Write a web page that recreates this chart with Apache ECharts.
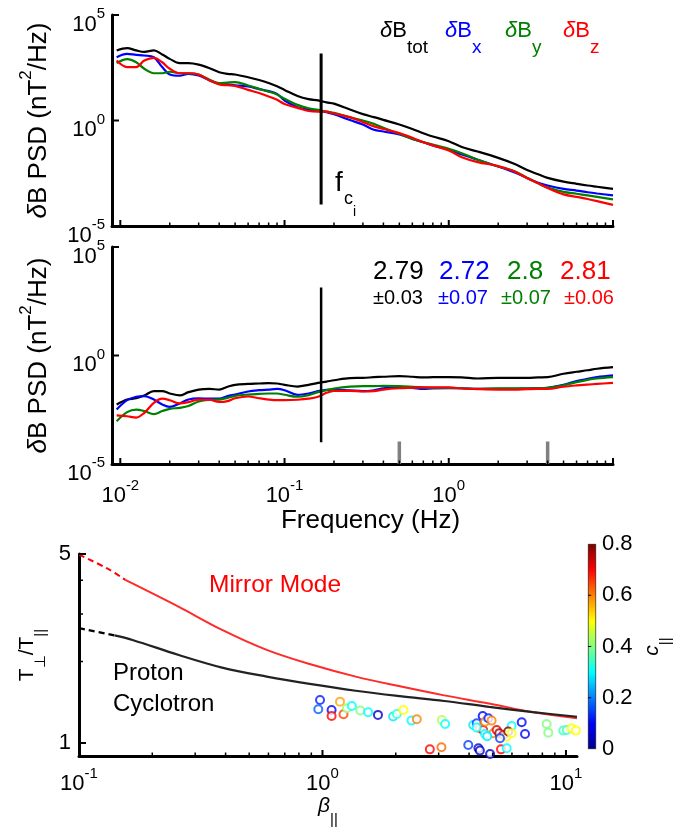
<!DOCTYPE html>
<html><head><meta charset="utf-8">
<script src="https://cdn.jsdelivr.net/npm/echarts@6/dist/echarts.min.js"></script>
<style>html,body{margin:0;padding:0;background:#fff}#c{width:694px;height:836px}</style>
</head><body><div id="c"></div>
<script>
// ---------- data ----------
const freq = [0.0095,0.011,0.0125,0.014,0.016,0.018,0.02,0.023,0.026,0.03,0.035,0.04,0.045,0.05,0.06,0.07,0.08,0.09,0.1,0.12,0.14,0.16,0.18,0.2,0.25,0.3,0.35,0.4,0.5,0.6,0.7,0.8,1.0,1.2,1.5,2,2.5,3,3.5,4,5,6,7,8,10];
// top panel: log10 of PSD (nT^2/Hz)
const psdTotExp = [3.32,3.43,3.32,3.25,3.32,3.13,2.92,2.72,2.72,2.65,2.48,2.29,2.21,2.18,2.05,1.92,1.78,1.62,1.45,1.16,1.01,0.95,0.86,0.80,0.52,0.30,0.16,0.03,-0.19,-0.40,-0.60,-0.76,-0.98,-1.26,-1.47,-1.77,-2.05,-2.35,-2.55,-2.72,-2.90,-3.00,-3.08,-3.14,-3.24];
const psdBxExp  = [3.00,3.16,3.11,3.08,3.00,2.53,2.18,2.12,2.21,2.13,1.90,1.74,1.71,1.67,1.61,1.49,1.39,1.26,0.95,0.63,0.52,0.46,0.40,0.30,0.02,-0.19,-0.44,-0.52,-0.66,-0.87,-1.03,-1.18,-1.39,-1.61,-1.86,-2.18,-2.45,-2.72,-2.95,-3.08,-3.24,-3.32,-3.40,-3.46,-3.55];
const psdByExp  = [2.72,2.91,2.76,2.45,2.24,2.24,2.31,2.24,2.24,2.18,1.93,1.77,1.80,1.82,1.66,1.50,1.37,1.23,1.03,0.74,0.58,0.50,0.42,0.36,0.15,0.00,-0.16,-0.35,-0.63,-0.87,-1.03,-1.14,-1.34,-1.55,-1.86,-2.18,-2.40,-2.72,-2.98,-3.18,-3.38,-3.47,-3.55,-3.62,-3.74];
const psdBzExp  = [2.84,2.53,2.53,2.84,2.97,2.76,2.45,2.24,2.24,2.18,1.90,1.71,1.67,1.64,1.45,1.30,1.14,0.98,0.78,0.60,0.45,0.42,0.42,0.33,0.16,-0.08,-0.28,-0.40,-0.60,-0.82,-1.03,-1.18,-1.42,-1.74,-1.97,-2.16,-2.40,-2.74,-2.98,-3.20,-3.50,-3.62,-3.72,-3.82,-4.00];
// middle panel: log10 of compensated PSD
const compTotExp = [-2.26,-2.03,-1.97,-1.84,-1.64,-1.64,-1.75,-1.84,-1.69,-1.57,-1.54,-1.57,-1.44,-1.35,-1.31,-1.29,-1.27,-1.29,-1.35,-1.43,-1.35,-1.26,-1.20,-1.14,-1.04,-1.03,-1.00,-0.98,-0.95,-0.98,-1.01,-1.00,-1.00,-1.01,-1.06,-1.03,-1.03,-1.03,-1.01,-1.00,-0.84,-0.75,-0.68,-0.61,-0.54];
const compBxExp  = [-2.49,-2.06,-1.90,-1.87,-2.03,-2.26,-2.37,-2.21,-2.03,-1.98,-1.99,-1.99,-1.87,-1.80,-1.66,-1.60,-1.57,-1.54,-1.60,-1.81,-1.75,-1.64,-1.58,-1.57,-1.61,-1.64,-1.60,-1.51,-1.46,-1.49,-1.54,-1.52,-1.51,-1.51,-1.54,-1.54,-1.54,-1.52,-1.51,-1.49,-1.35,-1.18,-1.08,-1.00,-0.92];
const compByExp  = [-3.03,-2.61,-2.49,-2.56,-2.70,-2.56,-2.46,-2.41,-2.33,-2.12,-2.04,-2.03,-1.95,-1.86,-1.80,-1.77,-1.75,-1.75,-1.81,-1.90,-1.83,-1.69,-1.60,-1.52,-1.43,-1.41,-1.41,-1.40,-1.41,-1.44,-1.47,-1.49,-1.49,-1.51,-1.54,-1.51,-1.51,-1.51,-1.51,-1.49,-1.37,-1.23,-1.12,-1.06,-1.00];
const compBzExp  = [-2.76,-2.80,-2.86,-2.64,-2.18,-1.99,-2.06,-2.21,-2.15,-2.03,-2.04,-2.14,-2.10,-1.97,-1.89,-1.97,-2.03,-2.06,-2.06,-2.04,-1.99,-1.90,-1.72,-1.63,-1.63,-1.66,-1.64,-1.57,-1.51,-1.49,-1.47,-1.47,-1.47,-1.52,-1.55,-1.57,-1.57,-1.55,-1.54,-1.54,-1.44,-1.38,-1.34,-1.31,-1.26];
const slopeValues = ['2.79','2.72','2.8','2.81'];
const slopeErrors = ['±0.03','±0.07','±0.07','±0.06'];
const fci = 0.167;                       // ion cyclotron frequency (Hz)
const fciTopRange = [1.05e-4, 1.5e3];
const fciMidRange = [1.0e-4, 1.35e3];
const fitBandFreq = [0.5, 4];            // grey markers
const fitBandRange = [1e-5, 1.1e-4];
// bottom panel
const mirrorBeta = [0.1,0.13,0.155,0.255,0.387,0.59,0.9,1.37,2.08,3.16,4.83,7.33,11.1];
const mirrorT    = [4.97,4.43,4.01,3.20,2.62,2.21,1.95,1.76,1.62,1.50,1.40,1.30,1.235];
const mirrorDashEnd = 2;
const cycBeta = [0.1,0.14,0.167,0.255,0.387,0.59,0.9,1.37,2.08,3.16,4.83,7.33,11.1];
const cycT    = [2.66,2.50,2.40,2.12,1.90,1.76,1.65,1.56,1.49,1.43,1.36,1.30,1.25];
const cycDashEnd = 1;
const obsBeta = [0.977,0.961,1.09,1.09,1.18,1.22,1.26,1.32,1.43,1.54,1.69,1.95,2.02,2.15,2.32,2.44,3.09,3.19,2.76,3.08,3.97,4.37,4.43,4.88,5.41,5.71,4.16,4.30,4.55,4.43,4.57,4.65,4.80,4.95,5.03,5.19,5.32,5.53,5.71,5.98,5.79,5.98,5.36,6.58,6.79,8.33,8.46,9.75,10.07,10.55,10.99,4.65,4.30,4.75];
const obsTratio = [1.443,1.333,1.325,1.259,1.422,1.277,1.344,1.371,1.318,1.299,1.27,1.252,1.28,1.325,1.21,1.224,1.217,1.176,0.947,0.964,0.983,0.956,0.937,0.911,0.947,0.956,1.166,1.183,1.259,1.133,1.117,1.199,1.234,1.21,1.086,1.117,1.086,1.071,1.056,1.156,1.102,1.086,1.041,1.193,1.08,1.176,1.092,1.111,1.117,1.133,1.111,1.08,1.14,1.06];
const obsC = [0.12,0.17,0.10,0.70,0.57,0.65,0.42,0.30,0.40,0.30,0.05,0.28,0.34,0.50,0.30,0.60,0.44,0.30,0.70,0.62,0.15,0.05,0.05,0.05,0.70,0.30,0.28,0.15,0.10,0.62,0.70,0.60,0.12,0.60,0.60,0.72,0.78,0.70,0.50,0.30,0.80,0.50,0.15,0.10,0.10,0.40,0.40,0.35,0.35,0.50,0.50,0.30,0.30,0.28];
// axis ranges / ticks / tick labels
const fRange = [0.0089, 10];
const freqMajor = [0.01, 0.1, 1, 10];
const freqMinor = [0.02,0.03,0.04,0.05,0.06,0.07,0.08,0.09,0.2,0.3,0.4,0.5,0.6,0.7,0.8,0.9,2,3,4,5,6,7,8,9];
const freqLabels = [0.01, 0.1, 1];
const psdRange = [1e-5, 1e5];
const psdTicks = [1e-5, 1, 1e5];
const betaRange = [0.1, 11.1];
const betaMajor = [0.1, 1, 10];
const betaMinor = [0.2,0.3,0.4,0.5,0.6,0.7,0.8,0.9,2,3,4,5,6,7,8,9];
const ratioRange = [0.895, 5];
const ratioMajor = [1, 5];
const ratioMinor = [2, 3, 4];
const cRange = [0, 0.8];
const cTicks = [0.2, 0.4, 0.6];
const jet = ['#00008F','#0000FF','#0080FF','#00FFFF','#80FF80','#FFFF00','#FF8000','#FF0000','#800000'];

// ---------- layout ----------
const FF = 'Liberation Sans, Arial, Helvetica, sans-serif';
const L = Math.log10;
const GR = [
  {left: 112, top: 15, width: 501, height: 211},
  {left: 112, top: 247, width: 501, height: 217},
  {left: 79, top: 554, width: 498, height: 202},
  {left: 588, top: 544, width: 8, height: 205}
];
// pixels per decade of each log axis (only used to give tick marks a fixed pixel length)
const ppdX = [GR[0].width / (L(fRange[1]) - L(fRange[0])), GR[1].width / (L(fRange[1]) - L(fRange[0])), GR[2].width / (L(betaRange[1]) - L(betaRange[0]))];
const ppdY = [GR[0].height / (L(psdRange[1]) - L(psdRange[0])), GR[1].height / (L(psdRange[1]) - L(psdRange[0])), GR[2].height / (L(ratioRange[1]) - L(ratioRange[0]))];

// ---------- helpers ----------
const pairs = (xs, ys) => xs.map((x,i)=>[x, ys[i]]);
const pairsExp = (xs, es) => xs.map((x,i)=>[x, Math.pow(10, es[i])]);
const powFmt = v => { const e = Math.round(L(v)); return '{b|10}{s|' + e + '}'; };
const powRich = {
  b: {fontSize: 22, fontFamily: FF, color: '#000', lineHeight: 29, verticalAlign: 'bottom'},
  s: {fontSize: 15, fontFamily: FF, color: '#000', lineHeight: 15, verticalAlign: 'top'}
};
const axisLineS = {show: true, lineStyle: {color: '#000', width: 3}};
function xMain(grid, range, labels, extra) {
  return Object.assign({type: 'log', gridIndex: grid, min: range[0], max: range[1], position: 'bottom',
    axisLine: axisLineS, splitLine: {show: false}, axisTick: {show: false},
    axisLabel: labels ? {show: true, customValues: labels, formatter: powFmt, rich: powRich, margin: 14} : {show: false}
  }, extra || {});
}
const psdName = '{d|δ}{a|B PSD (nT}{s|2}{a|/Hz)}';
const nameRichPSD = {
  a: {fontSize: 26, fontFamily: FF, color: '#000', lineHeight: 34, verticalAlign: 'bottom'},
  d: {fontSize: 26, fontFamily: FF, fontStyle: 'italic', color: '#000', lineHeight: 34, verticalAlign: 'bottom'},
  s: {fontSize: 17, fontFamily: FF, color: '#000', lineHeight: 17, verticalAlign: 'top'}
};
function yPSD(grid) {
  return {type: 'log', gridIndex: grid, min: psdRange[0], max: psdRange[1], axisLine: axisLineS, splitLine: {show: false},
    axisTick: {show: false},
    axisLabel: {show: true, customValues: psdTicks, formatter: powFmt, rich: powRich, margin: 7, padding: [12,0,0,0]},
    name: psdName, nameLocation: 'middle', nameRotate: 90, nameGap: 60,
    nameTextStyle: {rich: nameRichPSD}};
}
const subRich = {
  a: {fontSize: 21, fontFamily: FF, color: '#000', lineHeight: 31, verticalAlign: 'top'},
  g: {fontSize: 21, fontFamily: FF, fontStyle: 'italic', color: '#000', lineHeight: 31, verticalAlign: 'top'},
  u: {fontSize: 15, fontFamily: FF, color: '#000', lineHeight: 15, verticalAlign: 'bottom'}
};
function lineSeries(xi, yi, data, color, width, extra) {
  return Object.assign({type: 'line', xAxisIndex: xi, yAxisIndex: yi, data, showSymbol: false, symbol: 'none',
    smooth: 0.35, lineStyle: {color, width}, itemStyle: {color}, silent: true, z: 3}, extra || {});
}
// tick marks: tiny line series placed at the tick values on the axes' own log scales (pointing inward)
function xTickSeries(k, values, base, len, w) {
  const tip = base * Math.pow(10, len / ppdY[k]);
  return values.map(v => lineSeries(k, k, [[v, base], [v, tip]], '#000', w, {smooth: false, z: 6}));
}
function yTickSeries(k, values, base, len, w) {
  const tip = base * Math.pow(10, len / ppdX[k]);
  return values.map(v => lineSeries(k, k, [[base, v], [tip, v]], '#000', w, {smooth: false, z: 6}));
}

// ---------- axes ----------
const grids = GR.map(g => Object.assign({outerBoundsMode: 'none', containLabel: false}, g));
const xAxes = [
  xMain(0, fRange, null),
  xMain(1, fRange, freqLabels, {name: 'Frequency (Hz)', nameLocation: 'middle', nameGap: 40,
    nameTextStyle: {fontSize: 26, fontFamily: FF, color: '#000', padding: [0,0,0,16]}}),
  xMain(2, betaRange, betaMajor, {name: '{g|β}{u|||}', nameLocation: 'middle', nameGap: 40, nameTextStyle: {rich: subRich}}),
  {type: 'category', gridIndex: 3, data: ['c'], show: false},
  {type: 'value', gridIndex: 3, min: 0, max: 1, show: false}
];
xAxes[2].axisLabel.margin = 10;
const yAxes = [
  yPSD(0), yPSD(1),
  {type: 'log', gridIndex: 2, min: ratioRange[0], max: ratioRange[1], axisLine: axisLineS, splitLine: {show: false},
    axisTick: {show: false},
    axisLabel: {show: true, customValues: ratioMajor, fontSize: 22, fontFamily: FF, color: '#000', margin: 8},
    name: '{a|T}{u|⊥}{a|/T}{u|||}', nameLocation: 'middle', nameRotate: 90, nameGap: 26,
    nameTextStyle: {rich: subRich}},
  {type: 'value', gridIndex: 3, min: cRange[0], max: cRange[1], interval: 0.2, position: 'right',
    axisLine: {show: false}, splitLine: {show: false}, axisTick: {show: false},
    axisLabel: {show: true, fontSize: 22, fontFamily: FF, color: '#000', margin: 6, formatter: v => v === 0 ? '0' : v.toFixed(1)},
    name: '{g|c}{u|||}', nameLocation: 'middle', nameRotate: 90, nameGap: 46,
    nameTextStyle: {rich: subRich}}
];

// ---------- series ----------
const series = [];
series.push(lineSeries(0,0,pairsExp(freq, psdTotExp),'#000',2.2));
series.push(lineSeries(0,0,pairsExp(freq, psdBxExp),'#0000FF',2.2));
series.push(lineSeries(0,0,pairsExp(freq, psdByExp),'#008000',2.2));
series.push(lineSeries(0,0,pairsExp(freq, psdBzExp),'#FF0000',2.2));
series.push(lineSeries(0,0,[[fci, fciTopRange[0]],[fci, fciTopRange[1]]],'#000',3,{smooth:false}));
series.push(lineSeries(1,1,pairsExp(freq, compTotExp),'#000',2.2));
series.push(lineSeries(1,1,pairsExp(freq, compBxExp),'#0000FF',2.2));
series.push(lineSeries(1,1,pairsExp(freq, compByExp),'#008000',2.2));
series.push(lineSeries(1,1,pairsExp(freq, compBzExp),'#FF0000',2.2));
series.push(lineSeries(1,1,[[fci, fciMidRange[0]],[fci, fciMidRange[1]]],'#000',2.5,{smooth:false}));
fitBandFreq.forEach(f => series.push(lineSeries(1,1,[[f, fitBandRange[0]],[f, fitBandRange[1]]],'#808080',3.5,{smooth:false})));
series.push(lineSeries(2,2,pairs(mirrorBeta.slice(0, mirrorDashEnd+1), mirrorT.slice(0, mirrorDashEnd+1)),'#FF0000',2,{lineStyle:{color:'#FF0000',width:2,type:[6,4]}}));
series.push(lineSeries(2,2,pairs(mirrorBeta.slice(mirrorDashEnd), mirrorT.slice(mirrorDashEnd)),'#FF2A2A',2));
series.push(lineSeries(2,2,pairs(cycBeta.slice(0, cycDashEnd+1), cycT.slice(0, cycDashEnd+1)),'#000',2.2,{lineStyle:{color:'#000',width:2.2,type:[6,4]}}));
series.push(lineSeries(2,2,pairs(cycBeta.slice(cycDashEnd), cycT.slice(cycDashEnd)),'#222',2.2));
const scatterIndex = series.length;
series.push({type: 'scatter', xAxisIndex: 2, yAxisIndex: 2, symbol: 'emptyCircle', symbolSize: 8, silent: true, z: 4,
  data: obsBeta.map((b,i)=>[b, obsTratio[i], obsC[i]])});
series.push({type: 'bar', xAxisIndex: 3, yAxisIndex: 3, data: [cRange[1]], barWidth: '100%', silent: true,
  itemStyle: {borderColor: '#000', borderWidth: 0.6,
    color: new echarts.graphic.LinearGradient(0,1,0,0, jet.map((c,i)=>({offset: i/(jet.length-1), color: c})))}});
// ticks (inward)
[0, 1].forEach(k => {
  series.push(...xTickSeries(k, freqMajor, psdRange[0], 6, 2));
  series.push(...xTickSeries(k, freqMinor, psdRange[0], 3.5, 1.5));
  series.push(...yTickSeries(k, psdTicks, fRange[0], 7, 2));
});
series.push(...xTickSeries(2, betaMajor, ratioRange[0], 6, 2));
series.push(...xTickSeries(2, betaMinor, ratioRange[0], 3.5, 1.5));
series.push(...yTickSeries(2, ratioMajor, betaRange[0], 7, 2));
series.push(...yTickSeries(2, ratioMinor, betaRange[0], 4, 1.5));
cTicks.forEach(v => series.push(lineSeries(4, 3, [[0, v], [0.4, v]], '#000', 1, {smooth: false, z: 6})));

// ---------- text ----------
const legRich = col => ({
  d: {fontSize: 22, fontFamily: FF, fontStyle: 'italic', fill: col, lineHeight: 38, verticalAlign: 'top'},
  b: {fontSize: 22, fontFamily: FF, fill: col, lineHeight: 38, verticalAlign: 'top'},
  s: {fontSize: 19, fontFamily: FF, fill: col, lineHeight: 19, verticalAlign: 'bottom'}
});
const legItems = [['tot','#000',380],['x','#0000FF',445],['y','#008000',505],['z','#FF0000',563]];
const colors4 = ['#000','#0000FF','#008000','#FF0000'];
const numX = [373,439,507,560];
const errX = [373,438,501,564];
const T = (x,y,text,opt) => ({type:'text', x, y, silent:true, style: Object.assign({text, fontFamily: FF, fill:'#000', align:'left', verticalAlign:'middle'}, opt||{})});
const graphics = [];
legItems.forEach(([s,c,x]) => graphics.push({type:'text', x, y: 19.5, silent:true,
  style: {text: '{d|δ}{b|B}{s|' + s + '}', rich: legRich(c), fill: c, align:'left', verticalAlign:'top'}}));
graphics.push(T(335,183,'f',{fontSize:28}));
graphics.push(T(344,199,'c',{fontSize:18}));
graphics.push(T(353,212,'i',{fontSize:14}));
slopeValues.forEach((v,i)=>graphics.push(T(numX[i],272,v,{fontSize:26, fill: colors4[i]})));
slopeErrors.forEach((v,i)=>graphics.push(T(errX[i],298,v,{fontSize:20, fill: colors4[i]})));
graphics.push(T(209,585,'Mirror Mode',{fontSize:24.5, fill:'#FF0000'}));
graphics.push(T(113,673,'Proton',{fontSize:24}));
graphics.push(T(113,704,'Cyclotron',{fontSize:24}));

const option = {
  animation: false,
  backgroundColor: '#fff',
  textStyle: {fontFamily: FF, color: '#000'},
  grid: grids,
  xAxis: xAxes,
  yAxis: yAxes,
  visualMap: {type: 'continuous', show: false, seriesIndex: scatterIndex, dimension: 2, min: cRange[0], max: cRange[1],
    inRange: {color: jet}},
  series,
  graphic: graphics
};
const chart = echarts.init(document.getElementById('c'), null, {renderer: 'canvas', width: 694, height: 836});
chart.setOption(option);
</script></body></html>
